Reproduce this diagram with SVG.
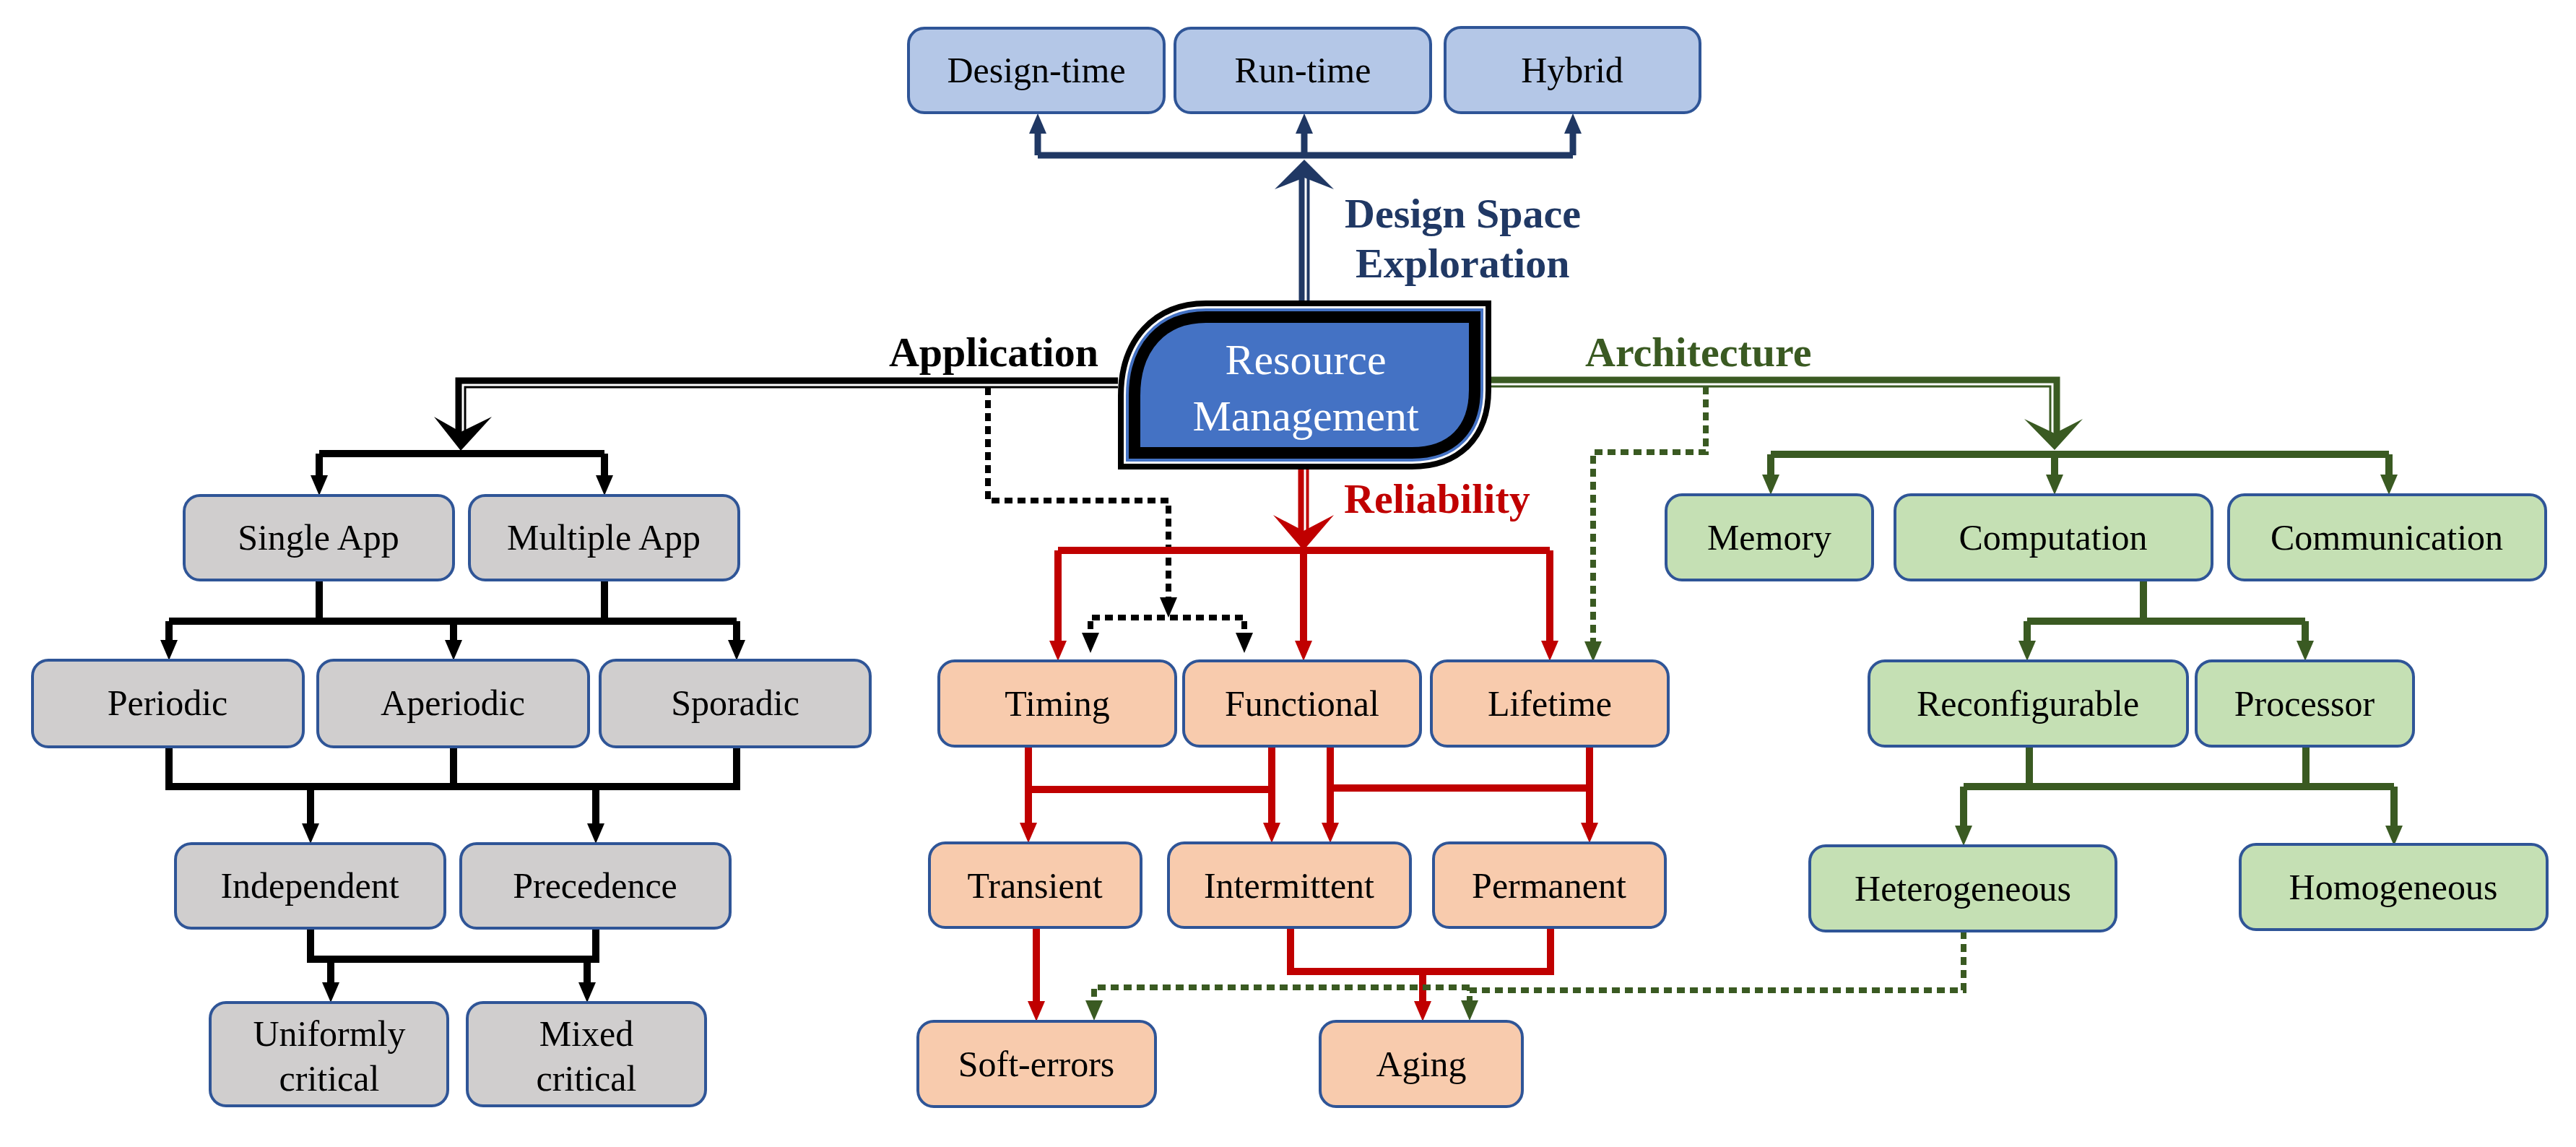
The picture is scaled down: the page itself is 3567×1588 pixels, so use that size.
<svg xmlns="http://www.w3.org/2000/svg" width="3567" height="1588" viewBox="0 0 3567 1588">
<style>
text{font-family:"Liberation Serif","DejaVu Serif",serif}
.n{font-size:50px;text-anchor:middle;fill:#000}
.lb{font-size:58px;font-weight:bold}
.bx{stroke:#2F5597;stroke-width:4}
.b{fill:#B4C7E7}.g{fill:#D0CECE}.o{fill:#F8CBAD}.gr{fill:#C5E0B4}
.k{stroke:#000;stroke-width:10;fill:none}
.r{stroke:#C00000;stroke-width:10;fill:none}
.v{stroke:#3A5A22;stroke-width:10;fill:none}
.u{stroke:#203864;stroke-width:9;fill:none}
.d{stroke-dasharray:11,7;stroke-width:8}
</style>
<defs>
<marker id="ak" viewBox="0 0 28 24" refX="13" refY="12" markerWidth="28" markerHeight="24" markerUnits="userSpaceOnUse" orient="auto"><path d="M0,0L28,12L0,24z" fill="#000"/></marker>
<marker id="ar" viewBox="0 0 28 24" refX="13" refY="12" markerWidth="28" markerHeight="24" markerUnits="userSpaceOnUse" orient="auto"><path d="M0,0L28,12L0,24z" fill="#C00000"/></marker>
<marker id="av" viewBox="0 0 28 24" refX="13" refY="12" markerWidth="28" markerHeight="24" markerUnits="userSpaceOnUse" orient="auto"><path d="M0,0L28,12L0,24z" fill="#3A5A22"/></marker>
<marker id="au" viewBox="0 0 28 24" refX="13" refY="12" markerWidth="28" markerHeight="24" markerUnits="userSpaceOnUse" orient="auto"><path d="M0,0L28,12L0,24z" fill="#203864"/></marker>
</defs>
<rect width="3567" height="1588" fill="#fff"/>
<g id="connectors">
<!-- blue -->
<path class="u" d="M1437,215L2178,215"/>
<path class="u" d="M1437,215L1437,172" marker-end="url(#au)"/>
<path class="u" d="M1806,215L1806,172" marker-end="url(#au)"/>
<path class="u" d="M2178,215L2178,172" marker-end="url(#au)"/>
<path d="M1806,416L1806,240" stroke="#203864" stroke-width="15" fill="none"/>
<path d="M1808,416L1808,240" stroke="#fff" stroke-width="3" fill="none"/>
<polygon points="1765,262 1806,221 1847,262 1806,246" fill="#203864"/>
<!-- black application -->
<path d="M1548,530L638,530L638,600" stroke="#000" stroke-width="15" fill="none"/>
<path d="M1548,533L641,533L641,600" stroke="#fff" stroke-width="3" fill="none"/>
<polygon points="601,577 638,624 681,577 638,598" fill="#000"/>
<path class="k" d="M442,628L837,628"/>
<path class="k" d="M442,628L442,671" marker-end="url(#ak)"/>
<path class="k" d="M837,628L837,671" marker-end="url(#ak)"/>
<path class="k" d="M442,803L442,860M837,803L837,860M234,860L1020,860"/>
<path class="k" d="M234,860L234,899" marker-end="url(#ak)"/>
<path class="k" d="M628,860L628,899" marker-end="url(#ak)"/>
<path class="k" d="M1020,860L1020,899" marker-end="url(#ak)"/>
<path class="k" d="M234,1034L234,1089L1020,1089L1020,1034M628,1034L628,1089"/>
<path class="k" d="M430,1089L430,1153" marker-end="url(#ak)"/>
<path class="k" d="M825,1089L825,1153" marker-end="url(#ak)"/>
<path class="k" d="M430,1285L430,1328L825,1328L825,1285"/>
<path class="k" d="M458,1328L458,1373" marker-end="url(#ak)"/>
<path class="k" d="M813,1328L813,1373" marker-end="url(#ak)"/>
<path class="k d" d="M1368,536L1368,693L1618,693L1618,840" marker-end="url(#ak)"/>
<path class="k d" d="M1510,889L1510,855L1723,855L1723,889"/>
<path class="k" d="M1510,880L1510,889" marker-end="url(#ak)"/>
<path class="k" d="M1723,880L1723,889" marker-end="url(#ak)"/>
<!-- red -->
<path d="M1805,650L1805,740" stroke="#C00000" stroke-width="15" fill="none"/>
<path d="M1807,650L1807,735" stroke="#fff" stroke-width="3" fill="none"/>
<polygon points="1763,713 1805,762 1847,713 1805,735" fill="#C00000"/>
<path class="r" d="M1465,762L2146,762"/>
<path class="r" d="M1465,762L1465,900" marker-end="url(#ar)"/>
<path class="r" d="M1805,762L1805,900" marker-end="url(#ar)"/>
<path class="r" d="M2146,762L2146,900" marker-end="url(#ar)"/>
<path class="r" d="M1424,1093L1761,1093M1842,1091L2201,1091"/>
<path class="r" d="M1424,1033L1424,1152" marker-end="url(#ar)"/>
<path class="r" d="M1761,1033L1761,1152" marker-end="url(#ar)"/>
<path class="r" d="M1842,1033L1842,1152" marker-end="url(#ar)"/>
<path class="r" d="M2201,1033L2201,1152" marker-end="url(#ar)"/>
<path class="r" d="M1435,1284L1435,1399" marker-end="url(#ar)"/>
<path class="r" d="M1787,1284L1787,1345L2147,1345L2147,1284"/>
<path class="r" d="M1970,1345L1970,1399" marker-end="url(#ar)"/>
<!-- green -->
<path d="M2065,529L2845,529L2845,600" stroke="#3A5A22" stroke-width="15" fill="none"/>
<path d="M2065,532L2842,532L2842,600" stroke="#fff" stroke-width="3" fill="none"/>
<polygon points="2803,580 2845,623 2884,580 2845,600" fill="#3A5A22"/>
<path class="v" d="M2452,629L3308,629"/>
<path class="v" d="M2452,629L2452,670" marker-end="url(#av)"/>
<path class="v" d="M2845,629L2845,670" marker-end="url(#av)"/>
<path class="v" d="M3308,629L3308,670" marker-end="url(#av)"/>
<path class="v" d="M2968,803L2968,860M2807,860L3192,860"/>
<path class="v" d="M2807,860L2807,900" marker-end="url(#av)"/>
<path class="v" d="M3192,860L3192,900" marker-end="url(#av)"/>
<path class="v" d="M2810,1033L2810,1089M3193,1033L3193,1089M2719,1089L3315,1089"/>
<path class="v" d="M2719,1089L2719,1156" marker-end="url(#av)"/>
<path class="v" d="M3315,1089L3315,1156" marker-end="url(#av)"/>
<path class="v d" d="M2362,535L2362,626L2206,626L2206,901" marker-end="url(#av)"/>
<path class="v d" d="M2719,1289L2719,1371L2035,1371L2035,1398" marker-end="url(#av)"/>
<path class="v d" d="M2035,1367L1515,1367L1515,1398" marker-end="url(#av)"/>
</g>
<g id="labels">
<text class="lb" x="1521" y="507" text-anchor="end" fill="#000">Application</text>
<text class="lb" x="2195" y="507" fill="#3A5A22">Architecture</text>
<text class="lb" x="1861" y="710" fill="#C00000">Reliability</text>
<text class="lb" x="1862" y="315" fill="#203864">Design Space</text>
<text class="lb" x="1877" y="384" fill="#203864">Exploration</text>
</g>
<g id="rm">
<path d="M1571,627L1571,548C1571,480 1610,439 1670,439L2042,439L2042,540C2042,595 2010,627 1955,627Z" fill="none" stroke="#000" stroke-width="46"/>
<path d="M1571,627L1571,548C1571,480 1610,439 1670,439L2042,439L2042,540C2042,595 2010,627 1955,627Z" fill="none" stroke="#fff" stroke-width="30"/>
<path d="M1571,627L1571,548C1571,480 1610,439 1670,439L2042,439L2042,540C2042,595 2010,627 1955,627Z" fill="none" stroke="#4472C4" stroke-width="24"/>
<path d="M1571,627L1571,548C1571,480 1610,439 1670,439L2042,439L2042,540C2042,595 2010,627 1955,627Z" fill="#4472C4" stroke="#000" stroke-width="16"/>
<text x="1808" y="518" font-size="60" text-anchor="middle" fill="#fff">Resource</text>
<text x="1808" y="596" font-size="60" text-anchor="middle" fill="#fff">Management</text>
</g>
<g id="n-design-time"><rect class="bx b" x="1258" y="39" width="354" height="117" rx="22"/><text class="n" x="1435" y="114">Design-time</text></g>
<g id="n-run-time"><rect class="bx b" x="1627" y="39" width="354" height="117" rx="22"/><text class="n" x="1804" y="114">Run-time</text></g>
<g id="n-hybrid"><rect class="bx b" x="2001" y="38" width="353" height="118" rx="22"/><text class="n" x="2177" y="114">Hybrid</text></g>

<g id="n-single"><rect class="bx g" x="255" y="686" width="373" height="117" rx="22"/><text class="n" x="441" y="761">Single App</text></g>
<g id="n-multiple"><rect class="bx g" x="650" y="686" width="373" height="117" rx="22"/><text class="n" x="836" y="761">Multiple App</text></g>
<g id="n-periodic"><rect class="bx g" x="45" y="914" width="375" height="120" rx="22"/><text class="n" x="232" y="990">Periodic</text></g>
<g id="n-aperiodic"><rect class="bx g" x="440" y="914" width="375" height="120" rx="22"/><text class="n" x="627" y="990">Aperiodic</text></g>
<g id="n-sporadic"><rect class="bx g" x="831" y="914" width="374" height="120" rx="22"/><text class="n" x="1018" y="990">Sporadic</text></g>
<g id="n-independent"><rect class="bx g" x="243" y="1168" width="373" height="117" rx="22"/><text class="n" x="429" y="1243">Independent</text></g>
<g id="n-precedence"><rect class="bx g" x="638" y="1168" width="373" height="117" rx="22"/><text class="n" x="824" y="1243">Precedence</text></g>
<g id="n-uniform"><rect class="bx g" x="291" y="1388" width="329" height="143" rx="22"/><text class="n" x="456" y="1448">Uniformly</text><text class="n" x="456" y="1510">critical</text></g>
<g id="n-mixed"><rect class="bx g" x="647" y="1388" width="330" height="143" rx="22"/><text class="n" x="812" y="1448">Mixed</text><text class="n" x="812" y="1510">critical</text></g>

<g id="n-timing"><rect class="bx o" x="1300" y="915" width="328" height="118" rx="22"/><text class="n" x="1464" y="991">Timing</text></g>
<g id="n-functional"><rect class="bx o" x="1639" y="915" width="328" height="118" rx="22"/><text class="n" x="1803" y="991">Functional</text></g>
<g id="n-lifetime"><rect class="bx o" x="1982" y="915" width="328" height="118" rx="22"/><text class="n" x="2146" y="991">Lifetime</text></g>
<g id="n-transient"><rect class="bx o" x="1287" y="1167" width="293" height="117" rx="22"/><text class="n" x="1433" y="1243">Transient</text></g>
<g id="n-intermittent"><rect class="bx o" x="1618" y="1167" width="335" height="117" rx="22"/><text class="n" x="1785" y="1243">Intermittent</text></g>
<g id="n-permanent"><rect class="bx o" x="1985" y="1167" width="321" height="117" rx="22"/><text class="n" x="2145" y="1243">Permanent</text></g>
<g id="n-soft"><rect class="bx o" x="1271" y="1414" width="329" height="118" rx="22"/><text class="n" x="1435" y="1490">Soft-errors</text></g>
<g id="n-aging"><rect class="bx o" x="1828" y="1414" width="280" height="118" rx="22"/><text class="n" x="1968" y="1490">Aging</text></g>

<g id="n-memory"><rect class="bx gr" x="2307" y="685" width="286" height="118" rx="22"/><text class="n" x="2450" y="761">Memory</text></g>
<g id="n-computation"><rect class="bx gr" x="2624" y="685" width="439" height="118" rx="22"/><text class="n" x="2843" y="761">Computation</text></g>
<g id="n-communication"><rect class="bx gr" x="3086" y="685" width="439" height="118" rx="22"/><text class="n" x="3305" y="761">Communication</text></g>
<g id="n-reconfigurable"><rect class="bx gr" x="2588" y="915" width="441" height="118" rx="22"/><text class="n" x="2808" y="991">Reconfigurable</text></g>
<g id="n-processor"><rect class="bx gr" x="3041" y="915" width="301" height="118" rx="22"/><text class="n" x="3191" y="991">Processor</text></g>
<g id="n-heterogeneous"><rect class="bx gr" x="2506" y="1171" width="424" height="118" rx="22"/><text class="n" x="2718" y="1247">Heterogeneous</text></g>
<g id="n-homogeneous"><rect class="bx gr" x="3102" y="1169" width="425" height="118" rx="22"/><text class="n" x="3314" y="1245">Homogeneous</text></g>
</svg>
